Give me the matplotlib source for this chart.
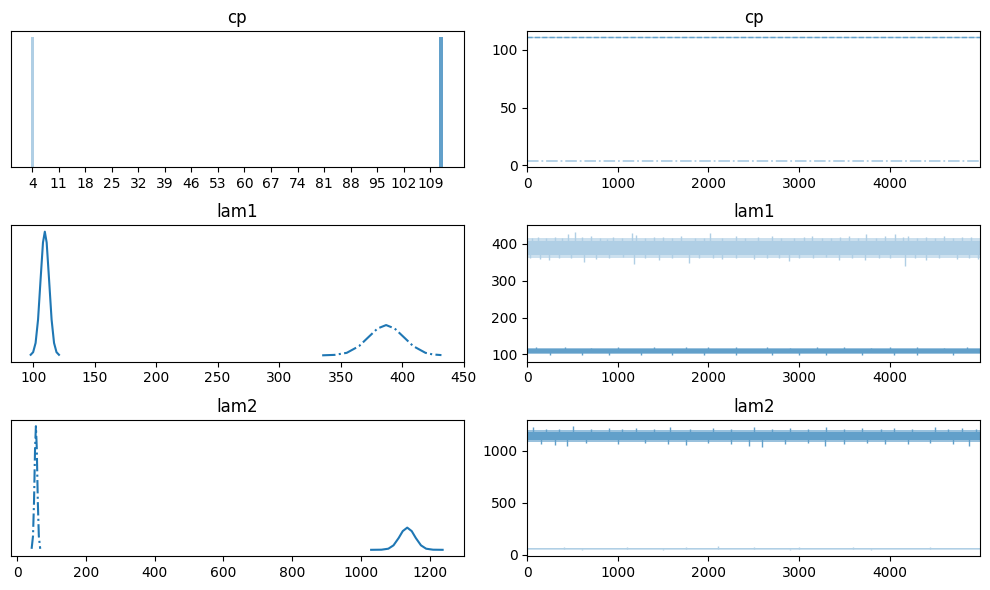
import matplotlib
matplotlib.use("Agg")
import matplotlib.pyplot as plt
import numpy as np

# colours of the two chains (C0 at two alphas, flattened on white)
light = '#b0cfe5'
dark = '#62a0ca'
line_c = '#1f77b4'

n_draws = 4999

# ---- cp (discrete) ----
cp_values = [4, 111.75]
cp_widths = [0.7, 1.05]
cp_heights = [1.0, 1.0]
cp_ticks = [4, 11, 18, 25, 32, 39, 46, 53, 60, 67, 74, 81, 88, 95, 102, 109]
cp_trace = [4, 111]

# ---- lam1 densities ----
lam1_c0_x = [335, 345, 355, 365, 372, 380, 387, 394, 402, 409, 419, 425, 432]
lam1_c0_y = [0.0000, 0.0004, 0.0023, 0.0085, 0.0161, 0.0247, 0.0279, 0.0247,
             0.0161, 0.0085, 0.0023, 0.0008, 0.0002]
lam1_c1_x = [98, 100, 102, 104, 106, 108, 109.5, 111, 113, 115, 117, 119, 121]
lam1_c1_y = [0.0005, 0.0029, 0.0114, 0.033, 0.069, 0.104, 0.114, 0.104,
             0.069, 0.033, 0.0114, 0.0029, 0.0005]

# ---- lam2 densities ----
lam2_c0_x = [42, 46, 49, 52, 54.5, 57, 60, 63, 67]
lam2_c0_y = [0.0008, 0.011, 0.039, 0.082, 0.0997, 0.082, 0.039, 0.011, 0.0008]
lam2_c1_x = [1030, 1060, 1080, 1095, 1110, 1122, 1135, 1148, 1160, 1175, 1190, 1210, 1238]
lam2_c1_y = [0.0000, 0.0001, 0.0009, 0.0036, 0.0095, 0.0151, 0.0179, 0.0151,
             0.0095, 0.0036, 0.0009, 0.0001, 0.0000]

# ---- traces: core band, fringe band, and the visible spikes ----
lam1_c0_core = (370, 408)
lam1_c0_fringe = (362, 415)
lam1_c0_up_d = [50, 120, 200, 300, 380, 450, 530, 600, 700, 800, 880, 950, 1050,
                1155, 1200, 1300, 1400, 1500, 1600, 1700, 1850, 1950, 2020, 2150,
                2300, 2400, 2550, 2700, 2800, 2950, 3050, 3145, 3250, 3350, 3450,
                3550, 3650, 3735, 3850, 3950, 4055, 4150, 4200, 4300, 4400, 4500,
                4600, 4700, 4800, 4900]
lam1_c0_up_v = [416, 418, 415, 419, 417, 428, 433, 418, 420, 416, 414, 418, 415,
                430, 425, 416, 418, 418, 415, 420, 417, 416, 430, 417,
                420, 416, 418, 420, 416, 417, 418, 421, 416, 417, 418,
                420, 416, 428, 417, 420, 428, 418, 422, 417, 418, 416,
                420, 417, 419, 418]
lam1_c0_dn_d = [30, 140, 240, 350, 480, 620, 760, 900, 1060, 1180, 1300, 1450,
                1600, 1790, 1900, 2050, 2150, 2300, 2500, 2650, 2780, 2885, 3000,
                3150, 3300, 3440, 3580, 3725, 3880, 4000, 4170, 4280, 4400, 4550,
                4750, 4880, 4980]
lam1_c0_dn_v = [362, 360, 357, 362, 361, 352, 360, 361, 363, 344, 362, 357,
                362, 348, 361, 362, 358, 362, 358, 361, 362, 354, 362,
                361, 363, 355, 362, 356, 361, 362, 339, 362, 356, 361,
                358, 362, 360]

lam1_c1_core = (104, 115)
lam1_c1_fringe = (101, 118)
lam1_c1_up_d = [100, 420, 700, 1000, 1400, 1750, 2000, 2300, 2650, 2900, 3200,
                3500, 3800, 4000, 4300, 4600, 4850]
lam1_c1_up_v = [119, 120, 118.5, 119, 119, 120, 119, 121, 119, 118.5, 119,
                120, 118.5, 119, 119, 118.5, 119]
lam1_c1_dn_d = [250, 600, 900, 1250, 1600, 1950, 2300, 2700, 3000, 3300, 3700,
                4050, 4300, 4700]
lam1_c1_dn_v = [99.5, 99, 98, 99.5, 99, 99.5, 97.5, 99.5, 99.5, 99, 99.5,
                99.5, 98.5, 99.5]

lam2_c0_core = (51, 64)
lam2_c0_fringe = (48, 68)
lam2_c0_up_d = [400, 1100, 1750, 2100, 2500, 3000, 3600, 4450]
lam2_c0_up_v = [72, 72, 76, 80, 72, 75, 72, 77]
lam2_c0_dn_d = [600, 1500, 2900, 3800]
lam2_c0_dn_v = [47, 48, 48, 48]

lam2_c1_core = (1100, 1180)
lam2_c1_fringe = (1082, 1195)
lam2_c1_up_d = [60, 200, 350, 505, 700, 900, 1050, 1200, 1400, 1580, 1800,
                2050, 2250, 2500, 2700, 2900, 3100, 3300, 3500, 3700, 3900,
                4050, 4250, 4500, 4650, 4800, 4950]
lam2_c1_up_v = [1225, 1210, 1205, 1236, 1210, 1215, 1205, 1220, 1208, 1225, 1208,
                1220, 1210, 1225, 1208, 1215, 1205, 1225, 1210, 1220, 1208,
                1215, 1210, 1225, 1208, 1215, 1205]
lam2_c1_dn_d = [150, 300, 436, 650, 1000, 1300, 1550, 1750, 2000, 2250, 2450,
                2595, 2850, 3100, 3285, 3500, 3750, 3950, 4200, 4450, 4700, 4880]
lam2_c1_dn_v = [1068, 1055, 1048, 1070, 1060, 1070, 1068, 1055, 1070, 1068, 1050,
                1040, 1068, 1070, 1042, 1068, 1070, 1060, 1068, 1070, 1068, 1048]


def fringe_colour(c):
    rgb = np.array(matplotlib.colors.to_rgb(c))
    return tuple(1 - (1 - rgb) * 0.65)


def draw_trace(ax, core, fringe, up_d, up_v, dn_d, dn_v, color):
    xs = [0, n_draws]
    ax.fill_between(xs, [fringe[0]] * 2, [fringe[1]] * 2, color=fringe_colour(color), lw=0)
    ax.fill_between(xs, [core[0]] * 2, [core[1]] * 2, color=color, lw=0)
    mid = (core[0] + core[1]) / 2
    ax.vlines(up_d, mid, up_v, color=color, lw=1)
    ax.vlines(dn_d, mid, dn_v, color=color, lw=1)


fig, axes = plt.subplots(3, 2, figsize=(9.9, 5.9), dpi=100)
fig.subplots_adjust(left=11 / 990, right=980 / 990, top=1 - 31 / 590,
                    bottom=1 - 556 / 590, wspace=0.141, hspace=0.43)

# cp
ax = axes[0, 0]
ax.bar(cp_values[0], cp_heights[0], width=cp_widths[0], color=light)
ax.bar(cp_values[1], cp_heights[1], width=cp_widths[1], color=dark)
ax.set_xticks(cp_ticks)
ax.set_xlim(-1.6, 117.8)
ax.set_yticks([])
ax.set_title('cp')

ax = axes[0, 1]
ax.plot([0, n_draws], [cp_trace[0]] * 2, ls='-.', color=light, lw=1.3)
ax.plot([0, n_draws], [cp_trace[1]] * 2, color=light, lw=1)
ax.plot([0, n_draws], [cp_trace[1]] * 2, ls='--', color=dark, lw=1)
ax.set_xlim(0, n_draws)
ax.set_title('cp')

# lam1
ax = axes[1, 0]
ax.plot(lam1_c1_x, lam1_c1_y, color=line_c, lw=1.5)
ax.plot(lam1_c0_x, lam1_c0_y, color=line_c, lw=1.5, ls='-.')
ax.set_xlim(82, 450)
ax.set_yticks([])
ax.set_title('lam1')

ax = axes[1, 1]
draw_trace(ax, lam1_c0_core, lam1_c0_fringe, lam1_c0_up_d, lam1_c0_up_v,
           lam1_c0_dn_d, lam1_c0_dn_v, light)
draw_trace(ax, lam1_c1_core, lam1_c1_fringe, lam1_c1_up_d, lam1_c1_up_v,
           lam1_c1_dn_d, lam1_c1_dn_v, dark)
ax.set_xlim(0, n_draws)
ax.set_title('lam1')

# lam2
ax = axes[2, 0]
ax.plot(lam2_c0_x, lam2_c0_y, color=line_c, lw=1.5, ls='-.')
ax.plot(lam2_c1_x, lam2_c1_y, color=line_c, lw=1.5)
ax.set_xlim(-18, 1299)
ax.set_yticks([])
ax.set_title('lam2')

ax = axes[2, 1]
draw_trace(ax, lam2_c0_core, lam2_c0_fringe, lam2_c0_up_d, lam2_c0_up_v,
           lam2_c0_dn_d, lam2_c0_dn_v, light)
draw_trace(ax, lam2_c1_core, lam2_c1_fringe, lam2_c1_up_d, lam2_c1_up_v,
           lam2_c1_dn_d, lam2_c1_dn_v, dark)
ax.set_xlim(0, n_draws)
ax.set_title('lam2')

plt.savefig('out.png')
